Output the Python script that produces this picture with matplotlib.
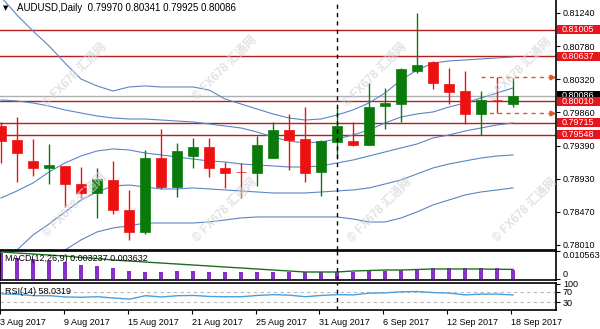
import numpy as np
import matplotlib.pyplot as plt
from matplotlib.patches import Rectangle
from matplotlib.transforms import blended_transform_factory

plt.rcParams['font.family'] = ['Liberation Sans', 'DejaVu Sans', 'Noto Sans CJK SC']

# AUDUSD daily bars, 3 Aug - 18 Sep 2017
dates = ['3 Aug', '4 Aug', '7 Aug', '8 Aug', '9 Aug', '10 Aug', '11 Aug', '14 Aug', '15 Aug',
         '16 Aug', '17 Aug', '18 Aug', '21 Aug', '22 Aug', '23 Aug', '24 Aug', '25 Aug', '28 Aug',
         '29 Aug', '30 Aug', '31 Aug', '1 Sep', '4 Sep', '5 Sep', '6 Sep', '7 Sep', '8 Sep',
         '11 Sep', '12 Sep', '13 Sep', '14 Sep', '15 Sep', '18 Sep']
opens = [0.79667, 0.79472, 0.79180, 0.79082, 0.79110, 0.78859, 0.78734, 0.78915, 0.78497, 0.78191,
         0.79221, 0.78818, 0.79249, 0.79374, 0.79082, 0.79026, 0.79012, 0.79221, 0.79611, 0.79486,
         0.79026, 0.79444, 0.79458, 0.79402, 0.79945, 0.79973, 0.80433, 0.80558, 0.80252, 0.80154,
         0.79834, 0.80029, 0.79970]
highs = [0.79723, 0.79792, 0.79486, 0.79416, 0.79115, 0.79096, 0.79082, 0.79180, 0.78776, 0.79333,
         0.79625, 0.79430, 0.79500, 0.79500, 0.79166, 0.79152, 0.79528, 0.79723, 0.79834, 0.79931,
         0.79472, 0.79931, 0.79723, 0.80265, 0.80196, 0.80474, 0.81240, 0.80572, 0.80474, 0.80433,
         0.80154, 0.80349, 0.80341]
lows = [0.79152, 0.78887, 0.78971, 0.78859, 0.78539, 0.78664, 0.78386, 0.78442, 0.78080, 0.78163,
        0.78790, 0.78678, 0.79082, 0.78957, 0.78804, 0.78664, 0.78831, 0.79215, 0.79054, 0.78887,
        0.78692, 0.79207, 0.79388, 0.79400, 0.79625, 0.79723, 0.80405, 0.80182, 0.79973, 0.79695,
        0.79542, 0.79848, 0.79925]
closes = [0.79458, 0.79291, 0.79082, 0.79124, 0.78859, 0.78734, 0.78929, 0.78497, 0.78191, 0.79221,
          0.78818, 0.79319, 0.79374, 0.79082, 0.79012, 0.79020, 0.79402, 0.79611, 0.79472, 0.79012,
          0.79458, 0.79667, 0.79402, 0.79931, 0.79987, 0.80460, 0.80516, 0.80265, 0.80140, 0.79834,
          0.80029, 0.80022, 0.80086]

# bollinger bands (20, 1 and 2 deviations)
bb_up2 = [0.81463, 0.81212, 0.80989, 0.80781, 0.80544, 0.80321, 0.80224, 0.80154, 0.80210, 0.80224,
          0.80210, 0.80210, 0.80210, 0.80168, 0.80043, 0.79973, 0.79903, 0.79834, 0.79778, 0.79750,
          0.79764, 0.79820, 0.79890, 0.79987, 0.80126, 0.80307, 0.80446, 0.80544, 0.80572, 0.80586,
          0.80600, 0.80614, 0.80627]
bb_up1 = [0.80029, 0.80015, 0.79987, 0.79945, 0.79890, 0.79848, 0.79806, 0.79778, 0.79764, 0.79764,
          0.79750, 0.79736, 0.79723, 0.79695, 0.79667, 0.79639, 0.79583, 0.79514, 0.79458, 0.79430,
          0.79444, 0.79486, 0.79542, 0.79611, 0.79709, 0.79792, 0.79834, 0.79862, 0.79931, 0.79987,
          0.80057, 0.80126, 0.80196]
bb_mid = [0.78664, 0.78762, 0.78873, 0.79026, 0.79152, 0.79249, 0.79319, 0.79347, 0.79333, 0.79291,
          0.79263, 0.79235, 0.79207, 0.79180, 0.79166, 0.79138, 0.79124, 0.79110, 0.79096, 0.79096,
          0.79110, 0.79152, 0.79193, 0.79249, 0.79305, 0.79361, 0.79416, 0.79500, 0.79542, 0.79597,
          0.79639, 0.79681, 0.79709]
bb_dn1 = [0.77732, 0.77940, 0.78149, 0.78302, 0.78469, 0.78637, 0.78748, 0.78832, 0.78845, 0.78818,
          0.78790, 0.78790, 0.78804, 0.78790, 0.78776, 0.78762, 0.78748, 0.78734, 0.78734, 0.78734,
          0.78748, 0.78762, 0.78776, 0.78804, 0.78859, 0.78915, 0.78999, 0.79082, 0.79138, 0.79180,
          0.79221, 0.79249, 0.79263]
bb_dn2 = [0.77244, 0.77384, 0.77592, 0.77774, 0.77940, 0.78080, 0.78191, 0.78247, 0.78275, 0.78316,
          0.78316, 0.78316, 0.78316, 0.78330, 0.78358, 0.78386, 0.78400, 0.78400, 0.78400, 0.78400,
          0.78400, 0.78400, 0.78372, 0.78330, 0.78330, 0.78386, 0.78470, 0.78567, 0.78637, 0.78706,
          0.78748, 0.78776, 0.78804]

macd = [0.00981, 0.00792, 0.00754, 0.00679, 0.00641, 0.00528, 0.00490, 0.00415, 0.00302, 0.00264,
        0.00264, 0.00302, 0.00302, 0.00264, 0.00264, 0.00264, 0.00264, 0.00264, 0.00264, 0.00264,
        0.00264, 0.00264, 0.00264, 0.00302, 0.00302, 0.00340, 0.00377, 0.00415, 0.00415, 0.00415,
        0.00415, 0.00400, 0.003237]
signal = [0.01018, 0.00980, 0.00943, 0.00905, 0.00867, 0.00811, 0.00773, 0.00716, 0.00679, 0.00641,
          0.00603, 0.00566, 0.00528, 0.00490, 0.00452, 0.00415, 0.00377, 0.00339, 0.00302, 0.00264,
          0.00264, 0.00264, 0.00302, 0.00320, 0.00339, 0.00339, 0.00358, 0.00377, 0.00377, 0.00377,
          0.00377, 0.00366, 0.003632]
rsi = [62, 60, 55, 55, 50, 49, 51, 46, 42, 55, 50, 55, 56, 52, 51, 51, 56, 59, 57, 51, 56, 59, 58,
       65, 66, 70, 71, 67, 65, 58, 61, 61, 58.0319]

levels = [0.81005, 0.80637, 0.80010, 0.79715, 0.79548]
bid = 0.80086
price_ticks = [0.81240, 0.80780, 0.80320, 0.79860, 0.79390, 0.78930, 0.78470, 0.78010]
date_ticks = [0, 4, 8, 12, 16, 20, 24, 28, 32]
date_labels = ['3 Aug 2017', '9 Aug 2017', '15 Aug 2017', '21 Aug 2017', '25 Aug 2017',
               '31 Aug 2017', '6 Sep 2017', '12 Sep 2017', '18 Sep 2017']
month_sep = 21          # 1 Sep
box_hi, box_lo = 0.80349, 0.79848   # range of the 15 Sep bar

W, H = 600, 329
def px(x0, y0, x1, y1):
    return [x0 / W, 1 - y1 / H, (x1 - x0) / W, (y1 - y0) / H]

fig = plt.figure(figsize=(6, 3.29), dpi=100)
ax = fig.add_axes(px(0, 0, 556, 250))
ax_m = fig.add_axes(px(0, 251, 556, 280))
ax_r = fig.add_axes(px(0, 283, 556, 310))

x = np.arange(len(dates))
xlim = (-0.0625, -0.0625 + 556 / 16)
FS = 6.5
bull, bear = '#0a7a0a', '#ee1111'

# ---- main price window
for v in levels:
    ax.axhline(v, color='#b41e1e', lw=1, zorder=1)
ax.axhline(bid, color='#b0b0b0', lw=1, zorder=1)
for band in (bb_up2, bb_up1, bb_mid, bb_dn1, bb_dn2):
    ax.plot(x, band, color='#5a86c5', lw=0.8, zorder=2)

o, h, l, c = map(np.array, (opens, highs, lows, closes))
col = np.where(c >= o, bull, bear)
ax.vlines(x, l, h, colors=col, lw=1, zorder=3)
ax.bar(x, np.maximum(np.abs(c - o), 0.00008), bottom=np.minimum(o, c), width=0.68,
       color=col, edgecolor=col, lw=0.5, zorder=4)

for v in (box_hi, box_lo):
    ax.plot([30, 34.5], [v, v], color='#e0552a', lw=1, ls=(0, (3, 3)), zorder=3)
    ax.plot([34.45], [v], marker='>', ms=3.5, color='#e0552a', zorder=3)

ax.set_xlim(*xlim)
ax.set_ylim(0.77940, 0.81421)
ax.yaxis.tick_right()
ax.set_yticks(price_ticks)
ax.set_yticklabels(['%.5f' % v for v in price_ticks])
ax.tick_params(axis='y', length=3, pad=2, labelsize=FS)
ax.set_xticks([])
ax.spines['top'].set_visible(False)
ax.spines['left'].set_visible(False)

ax.text(3 / 556, 0.968, '\u25bc', transform=ax.transAxes, fontsize=5, va='center',
        family=['DejaVu Sans'])
ax.text(17 / 556, 0.968, 'AUDUSD,Daily  0.79970 0.80341 0.79925 0.80086',
        transform=ax.transAxes, fontsize=FS + 0.5, va='center')

# price labels on the right; the level boxes sit on top of the bid box
bt = blended_transform_factory(fig.transFigure, ax.transData)
hbox = 9 * (0.81421 - 0.77940) / 250
for v, fc, z in [(bid, 'black', 5)] + [(v, '#e8141c', 7) for v in levels]:
    fig.add_artist(Rectangle((557 / W, v - hbox / 2), 43 / W, hbox, transform=bt,
                             fc=fc, ec='none', zorder=z))
    fig.text(562 / W, v, '%.5f' % v, transform=bt, color='white', fontsize=FS,
             va='center', zorder=z + 0.5)

# ---- MACD window
ax_m.bar(x, macd, width=0.2, color='#8b2fc9', zorder=2)
ax_m.plot(x, signal, color='#1f6e1f', lw=1, zorder=3)
ax_m.set_xlim(*xlim)
ax_m.set_ylim(-0.00038, 0.010563)
ax_m.set_xticks([])
ax_m.yaxis.tick_right()
ax_m.set_yticks([0.010563, 0.0])
ax_m.set_yticklabels(['0.010563', '0'])
ax_m.tick_params(axis='y', length=3, pad=2, labelsize=FS)
ax_m.get_yticklabels()[0].set_va('top')
ax_m.get_yticklabels()[1].set_va('bottom')
ax_m.text(5 / 556, 0.75, 'MACD(12,26,9) 0.003237 0.003632', transform=ax_m.transAxes,
          fontsize=FS, va='center')

# ---- RSI window
for v in (70, 30):
    ax_r.axhline(v, color='#b8b8b8', lw=0.8, ls=(0, (3, 3)))
ax_r.plot(x, rsi, color='#4a9fdc', lw=1)
ax_r.set_xlim(*xlim)
ax_r.set_ylim(0, 103.8)
ax_r.yaxis.tick_right()
ax_r.set_yticks([100, 70, 30])
ax_r.set_yticklabels(['100', '70', '30'])
ax_r.tick_params(axis='y', length=3, pad=2, labelsize=FS)
ax_r.text(5 / 556, 0.68, 'RSI(14) 58.0319', transform=ax_r.transAxes, fontsize=FS,
          va='center')
ax_r.set_xticks([t - 0.12 for t in date_ticks])
ax_r.set_xticklabels(date_labels, ha='left')
ax_r.tick_params(axis='x', length=3, pad=3, labelsize=FS)

for a in (ax, ax_m, ax_r):
    a.axvline(month_sep, color='black', lw=1, ls=(0, (3, 3)), zorder=6)
    for s in a.spines.values():
        s.set_linewidth(1.2)

# watermark
for wx, wy in [(75, 75), (225, 68), (375, 75), (520, 70),
               (75, 205), (225, 210), (380, 210), (525, 210)]:
    fig.text(wx / W, 1 - wy / H, '\u00a9 FX678 \u6c47\u901a\u7f51', rotation=45, fontsize=8.5,
             color='#d6d6d6', alpha=0.7, ha='center', va='center', weight='bold', zorder=0.5)

fig.savefig('out.png', dpi=100)
